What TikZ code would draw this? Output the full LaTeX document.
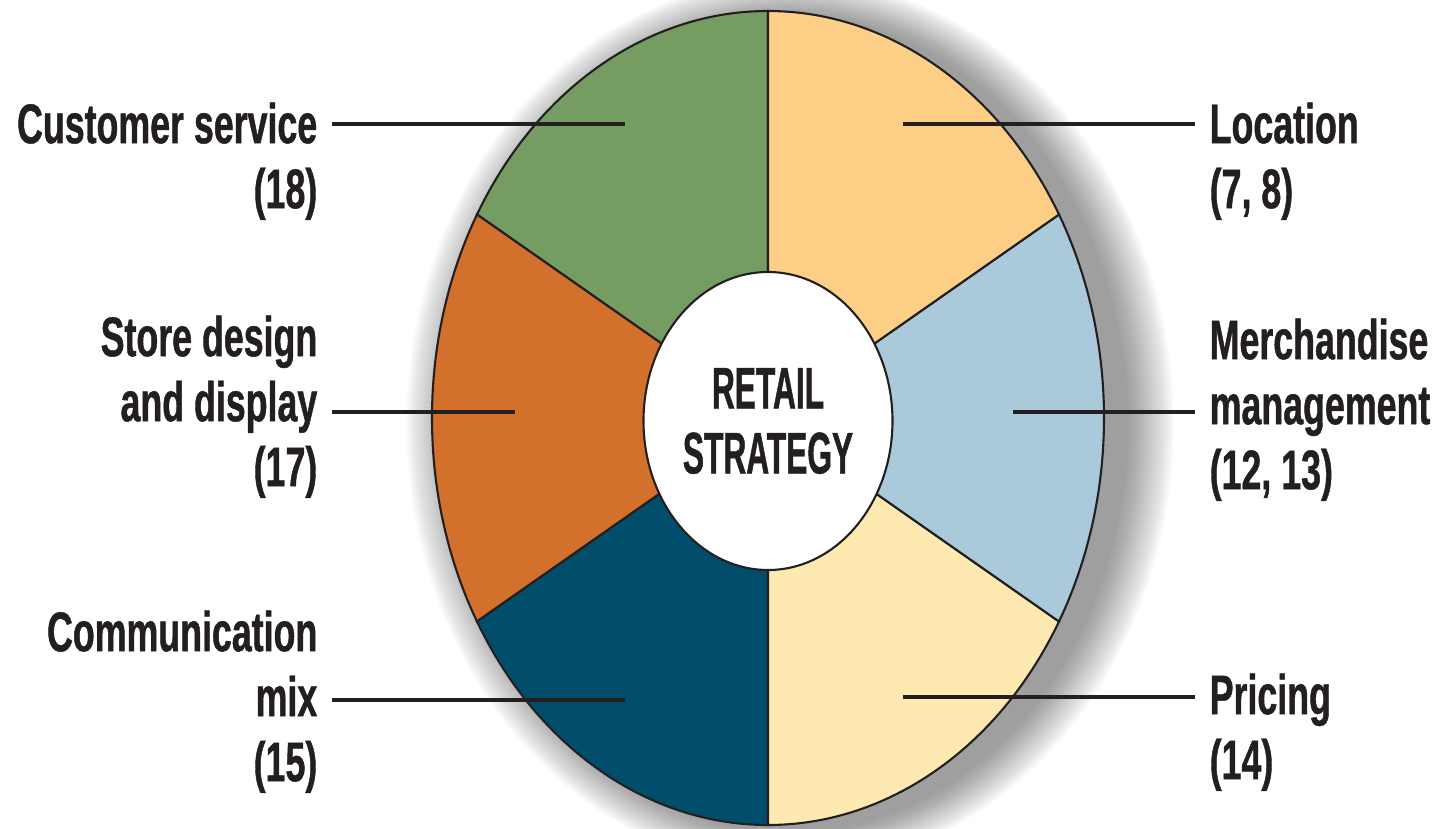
\documentclass[tikz,border=0pt]{standalone}
\usepackage{fontspec}
\setmainfont{Liberation Sans}
\newfontfamily\labelfont{Liberation Sans}[FakeStretch=0.64,FakeBold=0.8]
\newfontfamily\corefont{Liberation Sans}[FakeStretch=0.54,FakeBold=0.8]
\usetikzlibrary{shapes.geometric}

\definecolor{ink}{RGB}{35,31,32}
\definecolor{custgreen}{RGB}{117,156,97}
\definecolor{storeorange}{RGB}{211,112,44}
\definecolor{commteal}{RGB}{0,78,107}
\definecolor{pricecream}{RGB}{254,233,176}
\definecolor{merchblue}{RGB}{170,202,220}
\definecolor{locorange}{RGB}{253,206,134}

\tikzset{
  lefttext/.style={anchor=north east, align=right, inner sep=0pt, text=ink,
    font=\labelfont\bfseries\fontsize{15.9}{18.5}\selectfont},
  righttext/.style={lefttext, anchor=north west, align=left},
  leader/.style={draw=ink, line width=0.9pt, shorten >=0.14cm},
  core/.style={ellipse, draw=ink, fill=white, line width=0.6pt, inner sep=0pt,
    minimum width=2.49cm, minimum height=2.98cm, align=center, text=ink,
    font=\corefont\bfseries\fontsize{16.7}{18.5}\selectfont}
}

\begin{document}
\begin{tikzpicture}
\useasboundingbox (-7.68,-4.10) rectangle (6.76,4.18);

% soft shadow, heavier to the right
\foreach \i in {1,...,24}
  \fill[black, opacity=0.021] (0.22,-0.06) ellipse [x radius=3.36+0.02*\i, y radius=4.07+0.016*\i];

\foreach \a/\c in {90/custgreen,150/storeorange,210/commteal,270/pricecream,330/merchblue,30/locorange}
  \filldraw[fill=\c, draw=ink, line width=0.6pt] (0,0) -- (\a:3.36 and 4.07)
    arc[start angle=\a, delta angle=60, x radius=3.36, y radius=4.07] -- cycle;

\node[core] (core) at (0,-0.03) {RETAIL\\STRATEGY};

\node[lefttext] (cust) at (-4.50,3.16) {Customer service\\(18)};
\node[lefttext] (store) at (-4.50,1.03) {Store design\\and display\\(17)};
\node[lefttext] (comm) at (-4.50,-1.92) {Communication\\mix\\(15)};
\node[righttext] (loc) at (4.41,3.16) {Location\\(7, 8)};
\node[righttext] (merch) at (4.41,1.00) {Merchandise\\management\\(12, 13)};
\node[righttext] (price) at (4.41,-2.55) {Pricing\\(14)};

\coordinate (custpt) at (-1.43,2.94);
\coordinate (storept) at (-2.53,0.06);
\coordinate (commpt) at (-1.43,-2.82);
\coordinate (locpt) at (1.35,2.94);
\coordinate (merchpt) at (2.45,0.06);
\coordinate (pricept) at (1.35,-2.79);

\draw[leader] (custpt) -- (custpt -| cust.east);
\draw[leader] (storept) -- (storept -| store.east);
\draw[leader] (commpt) -- (commpt -| comm.east);
\draw[leader] (locpt) -- (locpt -| loc.west);
\draw[leader] (merchpt) -- (merchpt -| merch.west);
\draw[leader] (pricept) -- (pricept -| price.west);
\end{tikzpicture}
\end{document}
